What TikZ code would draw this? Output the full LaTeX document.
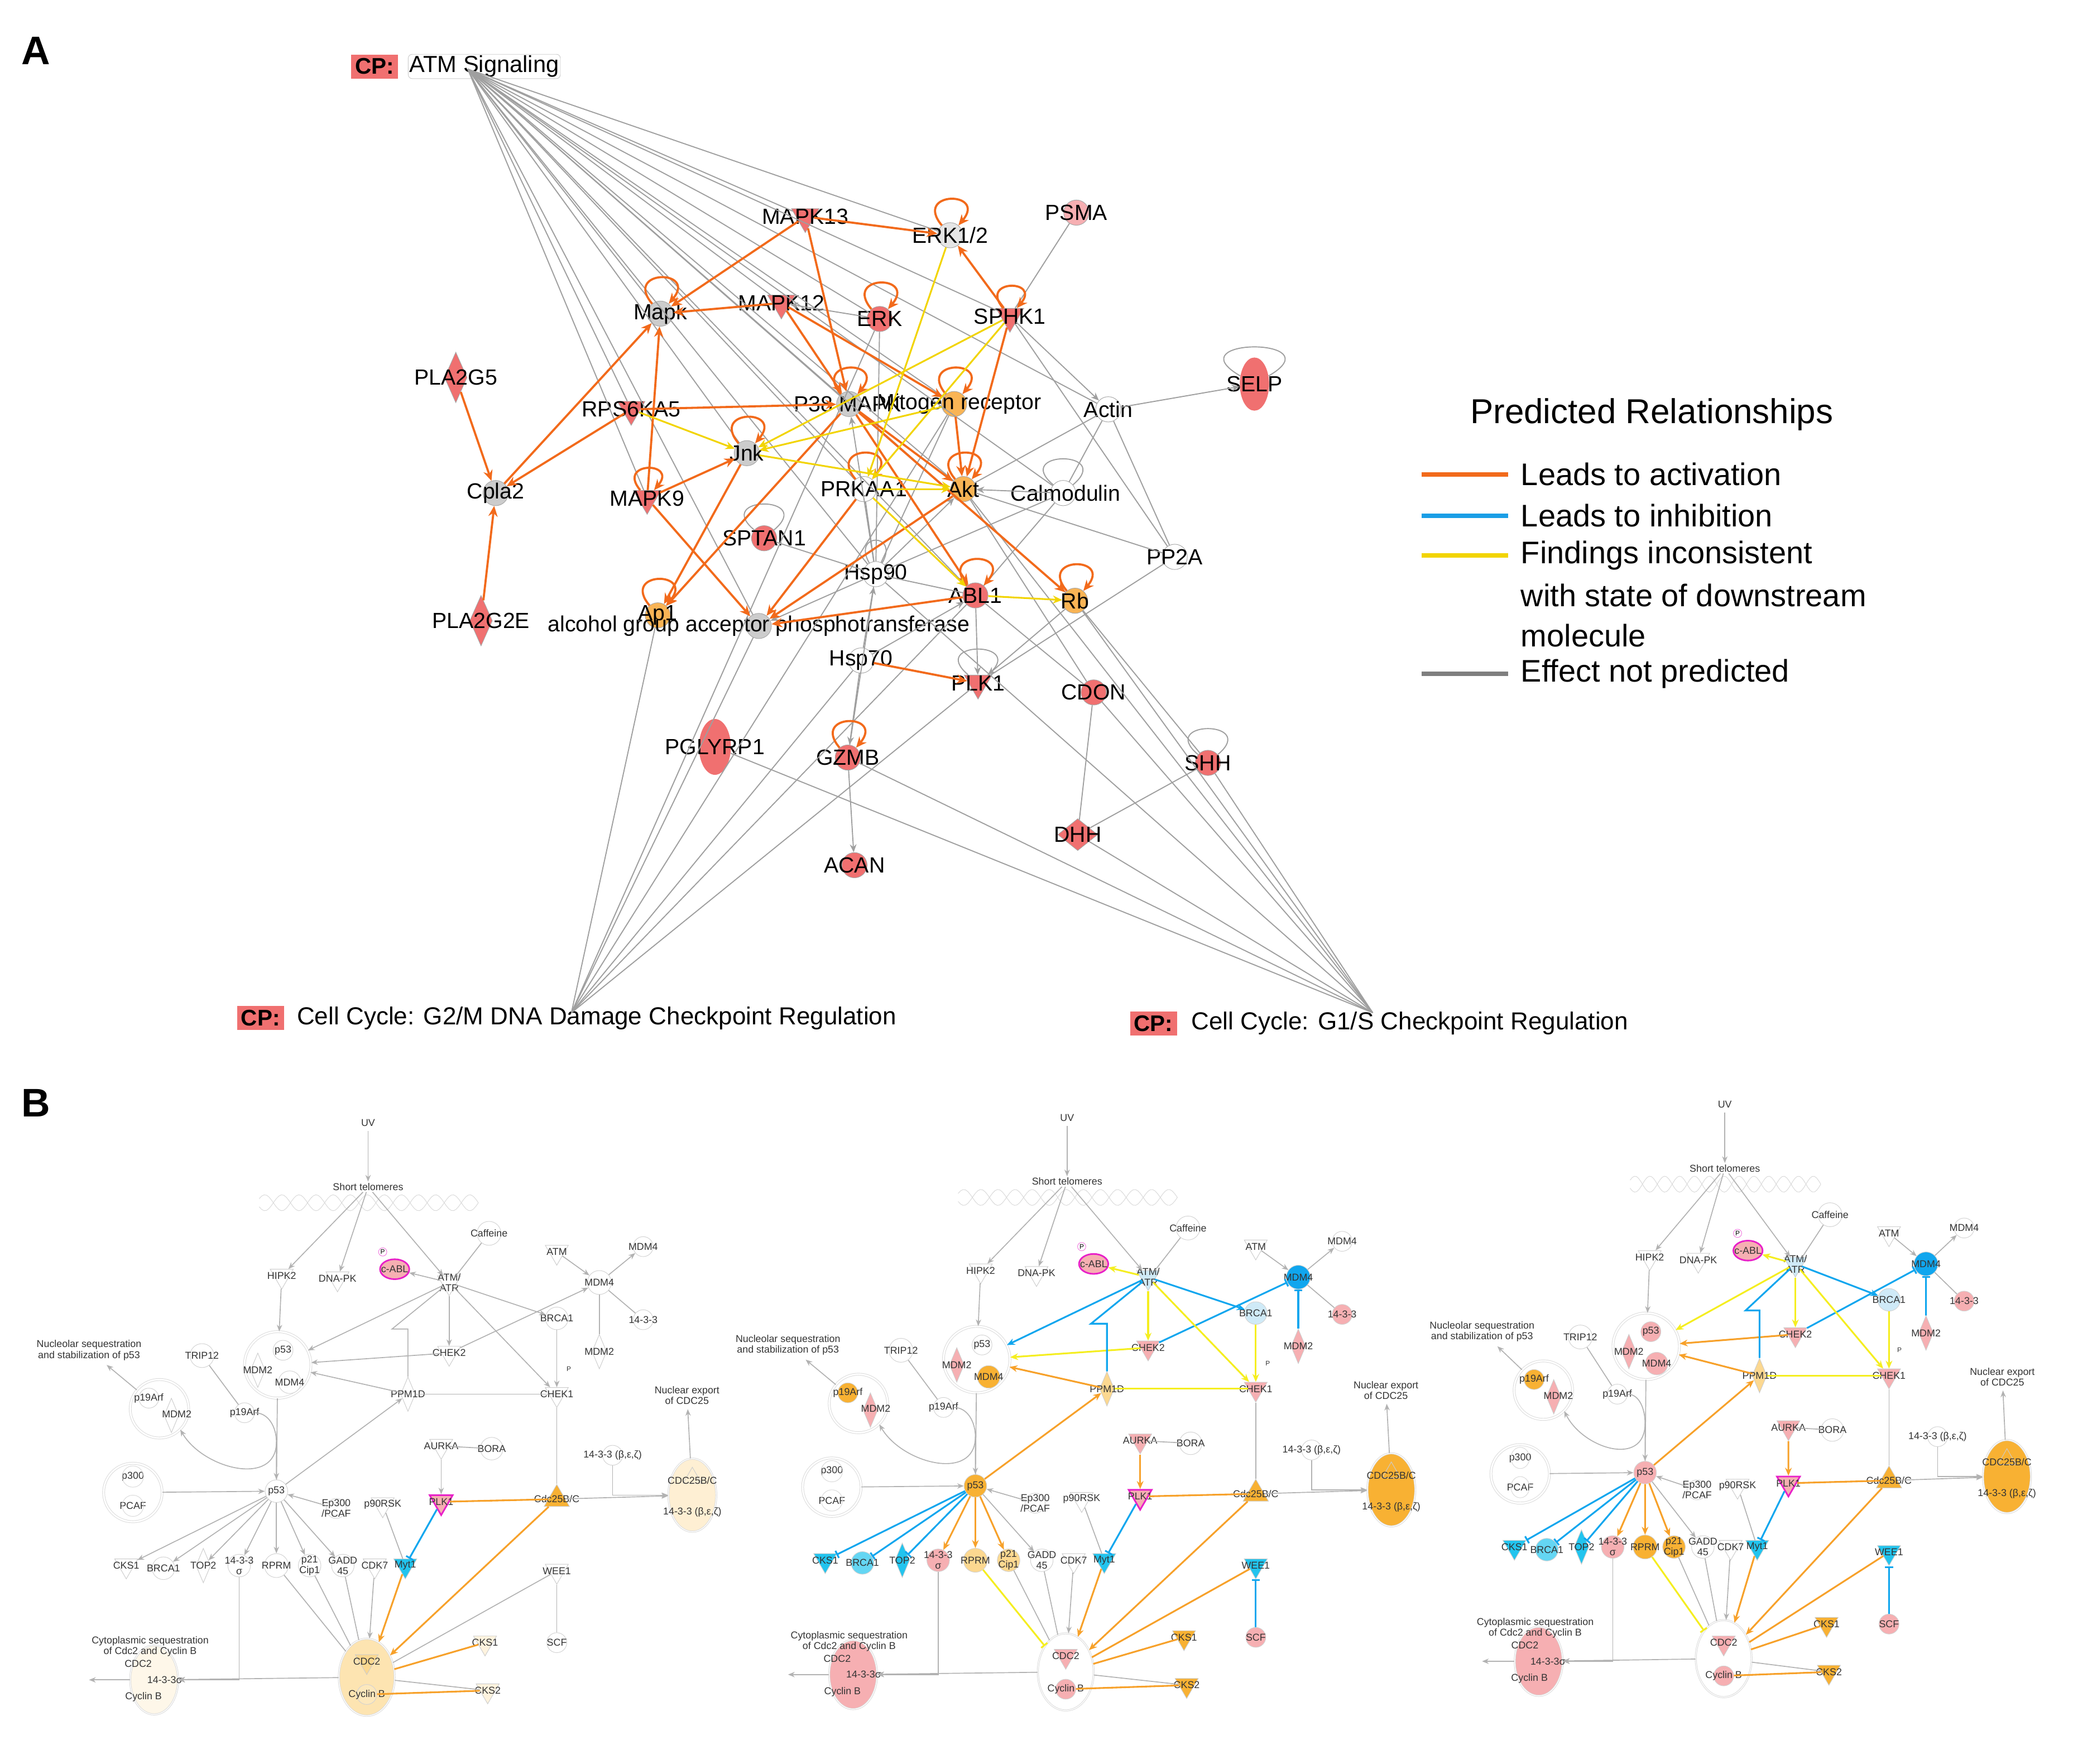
\documentclass[tikz,border=0pt]{standalone}
\usepackage{fontspec}
\setmainfont{Liberation Sans}
\usetikzlibrary{shapes.geometric,arrows.meta}
\definecolor{ored}{HTML}{F07070}
\definecolor{aorg}{HTML}{F26A1B}
\definecolor{ayel}{HTML}{F2D400}
\definecolor{agry}{HTML}{7F7F7F}
\definecolor{pk}{HTML}{F6AFB2}
\definecolor{lo}{HTML}{FCD890}
\definecolor{og}{HTML}{F8B133}
\definecolor{cy}{HTML}{22C4EE}
\definecolor{bl}{HTML}{1A9EE6}
\definecolor{lb}{HTML}{CFEAF7}
\definecolor{mg}{HTML}{E820C8}
\definecolor{bor}{HTML}{F7A12A}
\definecolor{byl}{HTML}{F5EE20}
\definecolor{bbl}{HTML}{10A6EE}
\tikzset{
 acirc/.style={circle,draw=gray!70,minimum size=19pt,inner sep=0pt},
 atri/.style={regular polygon,regular polygon sides=3,shape border rotate=180,draw=gray!70,minimum size=24pt,inner sep=0pt},
 adia/.style={diamond,draw=gray!70,minimum width=17pt,minimum height=38pt,inner sep=0pt},
 alab/.style={font=\fontsize{16.5}{16.5}\selectfont},
 oa/.style={aorg,line width=1.6pt,-{Stealth[length=8pt,width=7pt]}},
 ya/.style={ayel,line width=1.3pt,-{Stealth[length=7pt,width=6pt]}},
 ga/.style={gray!75,line width=0.8pt},
 gaa/.style={gray!75,line width=0.8pt,-{Stealth[length=6pt,width=5pt]}},
 cpbox/.style={fill=ored,font=\bfseries\fontsize{17}{17}\selectfont,inner sep=3pt},
 bc/.style={circle,draw=gray!35,minimum size=15pt,inner sep=0pt},
 bt/.style={regular polygon,regular polygon sides=3,shape border rotate=180,draw=gray!40,minimum size=20pt,inner sep=0pt},
 btu/.style={regular polygon,regular polygon sides=3,draw=gray!40,minimum size=22pt,inner sep=0pt},
 bd/.style={diamond,draw=gray!40,minimum width=11pt,minimum height=26pt,inner sep=0pt},
 bx/.style={circle,draw=gray!30,double=white,double distance=1.2pt,inner sep=0pt},
 bl8/.style={font=\fontsize{7.5}{8}\selectfont,align=center,text=black!80},
 g/.style={gray!60,line width=0.7pt,-{Stealth[length=5pt,width=4pt]}},
 gl/.style={gray!60,line width=0.7pt},
 ea/.style={line width=1.3pt,-{Stealth[length=6pt,width=5pt]}},
 ei/.style={line width=1.3pt,-{Bar[width=6pt]}},
 el/.style={line width=1.3pt},
}
\newcommand{\nA}[4]{\node[#3] (#1) at (#2) {}; \node[alab] at (#1) {#4};}
\newcommand{\nB}[4]{\node[#3] (#1) at (#2) {}; \node[bl8] at (#1) {#4};}
\newcommand{\panelB}{%
 \draw[gray!30] plot[domain=195:360,samples=90] (\x,{905+6*sin(\x*14)});
 \draw[gray!30] plot[domain=195:360,samples=90] (\x,{905-6*sin(\x*14)});
 \node[bl8] (uv) at (277,845) {UV};
 \node[bl8,fill=white,inner sep=1pt] (st) at (277,893) {Short telomeres};
 \nB{hipk}{212,960}{bt}{HIPK2}
 \nB{dnapk}{254,962}{bt}{DNA-PK}
 \node[ellipse,draw=mg,line width=1.2pt,fill=\fcabl,minimum width=22pt,minimum height=15pt,inner sep=0pt] (cabl) at (297,955) {};
 \node[bl8] at (cabl) {c-ABL};
 \node[circle,draw=mg!60,inner sep=0.5pt,font=\fontsize{5}{5}\selectfont] at (288,942) {P};
 \nB{atm}{338,965}{bt,fill=\fatm}{ATM/\\ATR}
 \nB{caff}{368,928}{bc,minimum size=18pt}{Caffeine}
 \nB{atmb}{419,942}{bt}{ATM}
 \nB{mdm}{451,965}{bc,minimum size=18pt,fill=\fmdm}{MDM4}
 \nB{mdmt}{484,938}{bc}{MDM4}
 \nB{ft}{484,993}{bc,fill=\fft}{14-3-3}
 \nB{brca}{419,992}{bc,minimum size=17pt,fill=\fbrca}{BRCA1}
 \nB{mdmtw}{451,1017}{bd,fill=\fmdmtw}{MDM2}
 \node[bx,minimum size=50pt] (pc) at (209,1027) {};
 \node[bc,fill=\fpin] (pin) at (213,1016) {};
 \node[bd,fill=\fmin] (min) at (194,1031) {};
 \node[bc,minimum size=17pt,fill=\fmfin] (mfin) at (218,1040) {};
 \node[bl8] at (pin) {p53}; \node[bl8] at (min) {MDM2}; \node[bl8] at (mfin) {MDM4};
 \nB{chektw}{338,1018}{bt,fill=\fchektw}{CHEK2}
 \nB{ppm}{307,1049}{bd,fill=\fppm}{PPM1D}
 \nB{chek}{419,1049}{bt,fill=\fchek}{CHEK1}
 \node[bl8,font=\fontsize{5}{5}\selectfont] at (428,1030) {P};
 \node[bl8] (nuc) at (67,1016) {Nucleolar sequestration\\and stabilization of p53};
 \nB{trip}{152,1020}{bc,minimum size=18pt}{TRIP12}
 \node[bx,minimum size=44pt] (pnc) at (120,1060) {};
 \node[bc,fill=\fpn] (pn) at (112,1052) {};
 \node[bd,fill=\fmn] (mn) at (129,1065) {};
 \node[bl8] at (pn) {p19Arf}; \node[bl8] at (133,1064) {MDM2};
 \nB{pnf}{184,1063}{bc}{p19Arf}
 \node[bx,minimum size=44pt] (ppc) at (100,1123) {};
 \node[bl8] at (100,1111) {p300}; \node[bl8] at (100,1133) {PCAF};
 \draw[gray!30] (100,1111) circle (8pt); \draw[gray!30] (100,1133) circle (8pt);
 \nB{pf}{208,1122}{bc,minimum size=17pt,fill=\fpf}{p53}
 \nB{ep}{253,1135}{bc}{Ep300\\/PCAF}
 \nB{pnr}{288,1132}{bt}{p90RSK}
 \node[bt,draw=mg,line width=1.2pt,fill=\fplk] (plk) at (332,1130) {}; \node[bl8] at (plk) {PLK1};
 \nB{aur}{332,1088}{bt,fill=\faur}{AURKA}
 \nB{bora}{370,1090}{bc,minimum size=17pt}{BORA}
 \nB{cdc}{419,1128}{btu,fill=\fcdc}{Cdc25B/C}
 \nB{ftb}{461,1095}{bc}{14-3-3 (β,ε,ζ)}
 \node[ellipse,draw=gray!30,double=white,fill=\fcdcx,minimum width=36pt,minimum height=55pt] (cdcx) at (521,1125) {};
 \node[btu,draw=gray!40,minimum size=16pt] at (521,1112) {};
 \node[bl8] at (521,1114) {CDC25B/C}; \node[bl8] at (521,1138) {14-3-3 (β,ε,ζ)};
 \node[bl8] (nex) at (517,1050) {Nuclear export\\of CDC25};
 \nB{cks}{95,1178}{bt,fill=\fcks}{CKS1}
 \nB{brcab}{123,1180}{bc,minimum size=17pt,fill=\fbrcab}{BRCA1}
 \nB{top}{153,1178}{bd,fill=\ftop}{TOP2}
 \nB{sig}{180,1178}{bc,minimum size=17pt,fill=\fsig}{14-3-3\\σ}
 \nB{rprm}{208,1178}{bc,minimum size=18pt,fill=\frprm}{RPRM}
 \nB{ptw}{233,1178}{bc,minimum size=17pt,fill=\fptw}{p21\\Cip1}
 \nB{gadd}{258,1178}{bc,minimum size=17pt}{GADD\\45}
 \nB{cdk}{282,1178}{bt}{CDK7}
 \nB{myt}{305,1178}{bt,fill=\fmyt}{Myt1}
 \nB{wee}{419,1182}{bt,fill=\fwee}{WEE1}
 \nB{scf}{419,1236}{bc,fill=\fscf}{SCF}
 \node[ellipse,draw=gray!30,double=white,fill=\fcdcc,minimum width=42pt,minimum height=58pt] (cdcc) at (276,1262) {};
 \node[bt,fill=\fcdctw] (cdctw) at (276,1250) {}; \node[bl8] at (276,1250) {CDC2};
 \node[bc,fill=\fcyc] (cyc) at (276,1275) {}; \node[bl8] at (276,1275) {Cyclin B};
 \nB{ckso}{365,1236}{bt,fill=\fckso}{CKS1}
 \nB{ckst}{367,1272}{bt,fill=\fckso}{CKS2}
 \node[ellipse,draw=gray!30,double=white,fill=\fcyto,minimum width=36pt,minimum height=52pt] (cyto) at (116,1264) {};
 \node[bl8] at (104,1252) {CDC2}; \node[bl8] at (124,1264) {14-3-3σ}; \node[bl8] at (108,1277) {Cyclin B};
 \node[bl8] (cyt) at (113,1239) {Cytoplasmic sequestration\\of Cdc2 and Cyclin B};
 \coordinate (lend) at (67,1264);
 \draw[g] (uv) -- (st);
 \draw[g] (st) -- (hipk); \draw[g] (st) -- (dnapk); \draw[g] (st) -- (atm);
 \draw[g] (hipk) -- (pc); \draw[gl] (caff) -- (atm.north east);
 \draw[g] (atmb) -- (mdm); \draw[g] (mdm) -- (mdmt); \draw[gl] (mdm) -- (ft);
 \draw[g] (pnc) -- (nuc); \draw[gl] (trip) -- (pnf);
 \draw[g] (pnf.east) to[out=0,in=90] (208,1085) -- (pf);
 \draw[gl] (pc) -- (pf);
 \draw[g] (208,1085) to[out=-90,in=-60,looseness=1.2] (pnc.south east);
 \draw[g] (ppc) -- (pf); \draw[g] (ep) -- (pf);
 \draw[g] (pf) -- (gadd); \draw[gl] (pnr) -- (myt);
 \draw[gl] (aur) -- (bora);
 \draw[gl] (chek) -- (cdc);
 \draw[g] (ftb) |- (cdcx); \draw[g] (cdc) -- (cdcx); \draw[g] (cdcx) -- (nex);
 \draw[g] (sig) |- (cyto); \draw[g] (cdcc) -- (cyto); \draw[g] (cyto) -- (lend);
 \draw[gl] (gadd) -- (cdcc); \draw[gl] (ptw) -- (cdcc); \draw[g] (cdk) -- (cdcc);
 \draw[gl] (cdcc) -- (ckso); \draw[gl] (cdcc) -- (ckst);
 \draw[cA] (atm) -- (pc);
 \draw[cB] (atm) -- (brca);
 \draw[cC] (chektw) -- (mdm);
 \draw[cD] (atm) -- (chektw);
 \draw[cE] (chektw) -- (pc);
 \draw[cF] (atm) -- (chek);
 \draw[cG] (ppm) -- (pc);
 \draw[cH] (ppm) -- (chek);
 \draw[cI] (brca) -- (chek);
 \draw[cJ] (atm) -- (cabl);
 \draw[cK] (pf) -- (ppm);
 \draw[cL] (ppm) |- (295,1000) -- (atm);
 \draw[cM] (mdmtw) -- (mdm);
 \draw[cN] (scf) -- (wee);
 \draw[cO] (pf) -- (cks); \draw[cO] (pf) -- (brcab); \draw[cO] (pf) -- (top);
 \draw[cP] (pf) -- (sig); \draw[cP] (pf) -- (rprm); \draw[cP] (pf) -- (ptw);
 \draw[cQ] (rprm) -- (cdcc);
 \draw[cR] (wee) -- (cdcc);
 \draw[cS] (aur) -- (plk);
 \draw[el,bor] (plk) -- (cdc);
 \draw[ei,bbl] (plk) -- (myt);
 \draw[ea,bor] (myt) -- (cdcc);
 \draw[ea,bor] (cdc) -- (cdcc);
 \draw[el,bor] (cdcc) -- (ckso); \draw[el,bor] (cyc) -- (ckst);
}
\begin{document}
\begin{tikzpicture}[x=1pt,y=-1pt]
\useasboundingbox (0,0) rectangle (1560,1327);
\fill[white] (0,0) rectangle (1560,1327);
\node[font=\bfseries\fontsize{30}{30}\selectfont] at (27,38) {A};
\node[font=\bfseries\fontsize{30}{30}\selectfont] at (27,830) {B};
\coordinate (hubA) at (352,52);
\coordinate (hubB) at (430,762);
\coordinate (hubC) at (1033,762);
\node[cpbox] (cpa) at (282,50) {CP:};
\node[alab,anchor=west,draw=gray!40,rounded corners=3pt,inner sep=1pt,font=\fontsize{17.5}{17.5}\selectfont] at (307,50) {ATM Signaling};
\node[cpbox] (cpb) at (196,766) {CP:};
\node[alab,anchor=west,font=\fontsize{18.5}{18.5}\selectfont] at (220,766) {Cell Cycle: G2/M DNA Damage Checkpoint Regulation};
\node[cpbox] (cpc) at (868,770) {CP:};
\node[alab,anchor=west,font=\fontsize{18.5}{18.5}\selectfont] at (893,770) {Cell Cycle: G1/S Checkpoint Regulation};
\nA{mapkt}{606,163}{atri,fill=ored}{MAPK13}
\nA{erkt}{715,177}{acirc,fill=gray!20}{ERK1/2}
\nA{psma}{810,160}{acirc,fill=pk}{PSMA}
\nA{mapk}{497,236}{acirc,fill=gray!40}{Mapk}
\nA{mapktw}{588,228}{atri,fill=ored}{MAPK12}
\nA{erk}{662,240}{acirc,fill=ored}{ERK}
\nA{sphk}{760,238}{atri,fill=ored}{SPHK1}
\nA{plafive}{343,284}{adia,fill=ored}{PLA2G5}
\node[ellipse,fill=ored,minimum width=22pt,minimum height=40pt] (selp) at (944,289) {}; \node[alab] at (selp) {SELP};
\nA{actin}{834,308}{acirc}{Actin}
\nA{pmapk}{639,304}{acirc,fill=gray!40}{}
\nA{mito}{718,304}{acirc,fill=bor!80}{}
\node[alab,anchor=west] at (594,304) {P38 MAPK};
\node[alab,anchor=east] at (787,304) {Mitogen receptor};
\nA{rps}{475,308}{atri,fill=ored}{RPS6KA5}
\nA{jnk}{562,341}{acirc,fill=gray!40}{Jnk}
\nA{cpla}{373,371}{acirc,fill=gray!40}{Cpla2}
\nA{mapkn}{487,375}{atri,fill=ored}{MAPK9}
\nA{prk}{650,368}{acirc}{PRKAA1}
\nA{akt}{725,368}{acirc,fill=bor!80}{Akt}
\nA{calm}{800,371}{acirc}{}
\node[alab,anchor=west] at (757,371) {Calmodulin};
\nA{sptan}{575,405}{acirc,fill=ored}{SPTAN1}
\nA{pptwa}{884,419}{acirc}{PP2A}
\nA{hspn}{659,432}{acirc}{Hsp90}
\nA{abl}{734,448}{acirc,fill=ored}{ABL1}
\nA{rb}{809,452}{acirc,fill=bor!80}{Rb}
\nA{platw}{362,467}{adia,fill=ored}{PLA2G2E}
\nA{apo}{495,463}{acirc,fill=bor!80}{Ap1}
\nA{alc}{571,471}{acirc,fill=gray!40}{alcohol group acceptor phosphotransferase}
\nA{hsps}{648,497}{acirc}{Hsp70}
\nA{plk}{736,514}{atri,fill=ored}{PLK1}
\nA{cdon}{823,521}{acirc,fill=ored}{CDON}
\node[ellipse,fill=ored,minimum width=24pt,minimum height=42pt] (pgly) at (538,562) {}; \node[alab] at (pgly) {PGLYRP1};
\nA{gzmb}{638,570}{acirc,fill=ored}{GZMB}
\nA{shh}{909,574}{acirc,fill=ored}{SHH}
\nA{dhh}{811,628}{adia,minimum height=24pt,minimum width=30pt,fill=ored}{DHH}
\nA{acan}{643,651}{acirc,fill=ored}{ACAN}
\foreach \t in {mapkt,erkt,mapk,mapktw,erk,rps,jnk,pmapk,mito,mapkn,prk,akt,calm,hspn,abl,rb,actin,alc,sphk}
  \draw[ga] (hubA) -- (\t);
\foreach \t in {alc,hsps,abl,plk,apo,mito,erk}
  \draw[ga] (hubB) -- (\t);
\foreach \t in {hspn,rb,cdon,shh,dhh,akt,gzmb,pgly}
  \draw[ga] (hubC) -- (\t);
\draw[ga] (psma) -- (sphk);
\draw[gaa] (sphk) -- (actin); \draw[gaa] (actin) -- (selp);
\draw[ga] (actin) -- (calm); \draw[ga] (actin) -- (pptwa); \draw[ga] (sphk) -- (pptwa);
\draw[gaa] (calm) -- (akt); \draw[ga] (calm) -- (abl); \draw[ga] (calm) -- (hspn);
\draw[ga] (pptwa) -- (akt); \draw[ga] (pptwa) -- (plk); \draw[ga] (actin) -- (akt);
\draw[gaa] (erk) -- (mapktw);
\draw[gaa] (hspn) -- (pmapk); \draw[gaa] (hspn) -- (akt); \draw[ga] (hspn) -- (prk);
\draw[ga] (hspn) -- (abl); \draw[ga] (hspn) -- (sptan); \draw[ga] (hspn) -- (mito); \draw[ga] (hspn) -- (erk);
\draw[gaa] (hspn) -- (alc); \draw[ga] (hspn) -- (hsps);
\draw[gaa] (hsps) -- (abl); \draw[gaa] (hsps) -- (gzmb); \draw[gaa] (gzmb) -- (hspn);
\draw[gaa] (gzmb) -- (acan);
\draw[ga] (cdon) -- (dhh); \draw[ga] (dhh) -- (shh); \draw[ga] (rb) -- (shh); \draw[ga] (abl) -- (cdon);
\draw[gaa] (abl) -- (plk); \draw[gaa] (rb) -- (plk); \draw[ga] (akt) -- (cdon);
\draw[ga] (selp) to[out=150,in=30,looseness=7] (selp);
\draw[ga] (sptan) to[out=140,in=40,looseness=7] (sptan);
\draw[ga] (plk) to[out=140,in=40,looseness=7] (plk);
\draw[ga] (shh) to[out=140,in=40,looseness=7] (shh);
\draw[ga] (calm) to[out=140,in=40,looseness=7] (calm);
\draw[ga] (hspn) to[out=120,in=60,looseness=7] (hspn);
\draw[oa] (plafive) -- (cpla); \draw[oa] (platw) -- (cpla); \draw[oa] (rps) -- (cpla);
\draw[oa] (mapkt) -- (erkt); \draw[oa] (mapkt) -- (pmapk); \draw[oa] (mapkt) -- (mapk);
\draw[oa] (mapktw) -- (mapk); \draw[oa] (mapktw) -- (pmapk); \draw[oa] (mapktw) -- (mito);
\draw[oa] (rps) -- (pmapk); \draw[oa] (mapkn) -- (jnk); \draw[oa] (mapkn) -- (mapk);
\draw[oa] (jnk) -- (apo); \draw[oa] (sphk) -- (erkt); \draw[oa] (sphk) -- (akt);
\draw[oa] (mapkn) -- (alc); \draw[oa] (pmapk) -- (akt); \draw[oa] (pmapk) -- (rb);
\draw[oa] (mito) -- (akt); \draw[oa] (hsps) -- (plk); \draw[oa] (cpla) -- (mapk);
\draw[oa] (prk) -- (alc); \draw[oa] (pmapk) -- (apo); \draw[oa] (abl) -- (alc);
\draw[oa] (akt) -- (alc); \draw[oa] (pmapk) -- (abl);
\foreach \t in {erkt,mapk,erk,sphk,pmapk,jnk,mapkn,prk,akt,abl,rb,apo,gzmb,mito}
  \draw[oa] (\t) to[out=130,in=50,looseness=7] (\t);
\draw[ya] (erkt) -- (prk); \draw[ya] (sphk) -- (jnk); \draw[ya] (rps) -- (jnk);
\draw[ya] (prk) -- (akt); \draw[ya] (prk) -- (abl); \draw[ya] (abl) -- (rb);
\draw[ya] (mito) -- (jnk); \draw[ya] (jnk) -- (akt); \draw[ya] (sphk) -- (prk);
\node[font=\fontsize{26}{26}\selectfont] at (1243,312) {Predicted Relationships};
\foreach \y/\c/\t in {357/aorg/Leads to activation,388/bl/Leads to inhibition,418/ayel/Findings inconsistent,507/agry/Effect not predicted}
 { \draw[\c,line width=3.5pt] (1070,\y) -- (1135,\y);
   \node[anchor=west,font=\fontsize{23.5}{23.5}\selectfont] at (1141,\y) {\t}; }
\node[anchor=west,font=\fontsize{23.5}{23.5}\selectfont] at (1141,448) {with state of downstream};
\node[anchor=west,font=\fontsize{23.5}{23.5}\selectfont] at (1141,478) {molecule};
\begin{scope}
\def\fcabl{pk}\def\fatm{white}\def\fmdm{white}\def\fft{white}\def\fbrca{white}\def\fmdmtw{white}
\def\fpin{white}\def\fmin{white}\def\fmfin{white}\def\fchektw{white}\def\fppm{white}\def\fchek{white}
\def\fpn{white}\def\fmn{white}\def\fpf{white}\def\fplk{pk}\def\faur{white}\def\fcdc{og}\def\fcdcx{lo!40}
\def\fcks{white}\def\fbrcab{white}\def\ftop{white}\def\fsig{white}\def\frprm{white}\def\fptw{white}
\def\fmyt{cy}\def\fwee{white}\def\fscf{white}\def\fcdcc{lo!70}\def\fcdctw{lo}\def\fcyc{lo!60}\def\fckso{lo!30}\def\fcyto{lo!20}
\tikzset{cA/.style={g},cB/.style={g},cC/.style={g},cD/.style={g},cE/.style={g},cF/.style={g},cG/.style={g},cH/.style={gl},cI/.style={g},cJ/.style={g},
 cK/.style={g},cL/.style={gl},cM/.style={gl},cN/.style={gl},cO/.style={g},cP/.style={g},cQ/.style={gl},cR/.style={gl},cS/.style={g}}
\panelB
\end{scope}
\begin{scope}[shift={(526,-4)}]
\def\fcabl{pk}\def\fatm{lb}\def\fmdm{bbl}\def\fft{pk}\def\fbrca{lb}\def\fmdmtw{pk}
\def\fpin{white}\def\fmin{pk}\def\fmfin{og}\def\fchektw{pk}\def\fppm{lo}\def\fchek{pk}
\def\fpn{og}\def\fmn{pk}\def\fpf{og}\def\fplk{pk}\def\faur{pk}\def\fcdc{og}\def\fcdcx{og}
\def\fcks{cy}\def\fbrcab{cy!70}\def\ftop{cy}\def\fsig{pk}\def\frprm{lo}\def\fptw{lo}
\def\fmyt{cy}\def\fwee{cy}\def\fscf{pk}\def\fcdcc{white}\def\fcdctw{pk}\def\fcyc{pk}\def\fckso{og}\def\fcyto{pk}
\tikzset{cA/.style={ea,bbl},cB/.style={ea,bbl},cC/.style={ei,bbl},cD/.style={ea,byl},cE/.style={ea,byl},cF/.style={ea,byl},cG/.style={ea,bor},cH/.style={el,byl},cI/.style={ea,byl},cJ/.style={ea,byl},
 cK/.style={ea,bor},cL/.style={el,bbl},cM/.style={ei,bbl},cN/.style={ei,bbl},cO/.style={ei,bbl},cP/.style={ea,bor},cQ/.style={ei,byl},cR/.style={el,bor},cS/.style={ea,bor}}
\panelB
\end{scope}
\begin{scope}[xshift=1057,yshift=14,xscale=0.87]
\def\fcabl{pk}\def\fatm{lb}\def\fmdm{bbl}\def\fft{pk}\def\fbrca{lb}\def\fmdmtw{pk}
\def\fpin{pk}\def\fmin{pk}\def\fmfin{pk}\def\fchektw{pk}\def\fppm{lo}\def\fchek{pk}
\def\fpn{og}\def\fmn{pk}\def\fpf{pk}\def\fplk{pk}\def\faur{pk}\def\fcdc{og}\def\fcdcx{og}
\def\fcks{cy}\def\fbrcab{cy!70}\def\ftop{cy}\def\fsig{pk}\def\frprm{og}\def\fptw{og}
\def\fmyt{cy}\def\fwee{cy}\def\fscf{pk}\def\fcdcc{white}\def\fcdctw{pk}\def\fcyc{pk}\def\fckso{og}\def\fcyto{pk}
\tikzset{cA/.style={ea,byl},cB/.style={ea,bbl},cC/.style={ei,bbl},cD/.style={ea,byl},cE/.style={ea,bor},cF/.style={ea,byl},cG/.style={ea,bor},cH/.style={el,byl},cI/.style={ea,byl},cJ/.style={ea,byl},
 cK/.style={ea,bor},cL/.style={el,bbl},cM/.style={ei,bbl},cN/.style={ei,bbl},cO/.style={ei,bbl},cP/.style={ea,bor},cQ/.style={ei,byl},cR/.style={el,bor},cS/.style={ea,bor}}
\panelB
\end{scope}
\end{tikzpicture}
\end{document}
